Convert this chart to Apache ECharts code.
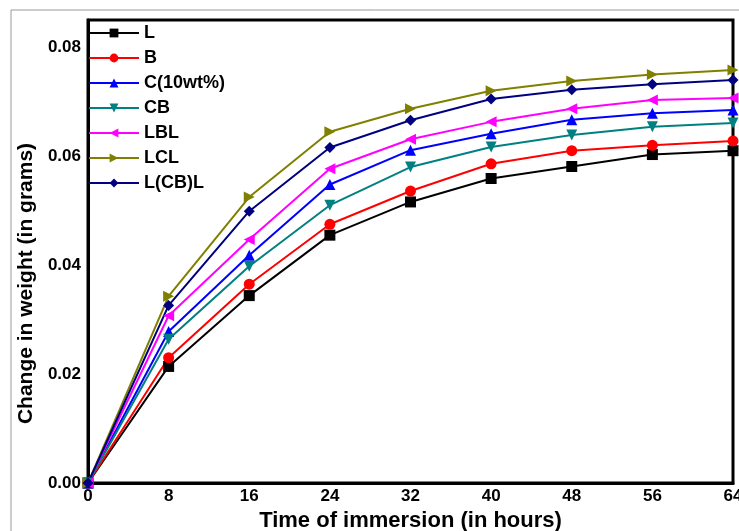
<!DOCTYPE html>
<html>
<head>
<meta charset="UTF-8" />
<title>Change in weight</title>
<script src="https://cdn.jsdelivr.net/npm/echarts@6/dist/echarts.min.js"></script>
<style>
  html, body { margin: 0; padding: 0; background: #fff; }
  #main { width: 739px; height: 531px; }
</style>
</head>
<body>
<div id="main"></div>
<script>
// time of immersion (hours)
var hours = [0, 8, 16, 24, 32, 40, 48, 56, 64]
// change in weight (grams)
var L     = [0, 0.0214, 0.0344, 0.0455, 0.0516, 0.0559, 0.0581, 0.0603, 0.0610]
var B     = [0, 0.0230, 0.0365, 0.0475, 0.0536, 0.0586, 0.0610, 0.0620, 0.0628]
var C     = [0, 0.0278, 0.0418, 0.0548, 0.0611, 0.0641, 0.0667, 0.0679, 0.0685]
var CB    = [0, 0.0264, 0.0398, 0.0510, 0.0580, 0.0617, 0.0639, 0.0654, 0.0661]
var LBL   = [0, 0.0307, 0.0447, 0.0577, 0.0631, 0.0663, 0.0687, 0.0703, 0.0707]
var LCL   = [0, 0.0343, 0.0525, 0.0645, 0.0687, 0.0720, 0.0738, 0.0750, 0.0758]
var LCBL  = [0, 0.0326, 0.0499, 0.0616, 0.0666, 0.0705, 0.0722, 0.0732, 0.0740]

var font = 'Liberation Sans'

function mk(name, data, color, symbol, rot) {
  return {
    name: name,
    type: 'line',
    data: hours.map(function (h, i) { return [h, data[i]] }),
    symbol: symbol,
    symbolSize: 11,
    symbolRotate: rot || 0,
    lineStyle: { color: color, width: 2 },
    itemStyle: { color: color },
    z: 3
  }
}

var chart = echarts.init(document.getElementById('main'))
chart.setOption({
  backgroundColor: '#fff',
  animation: false,
  graphic: [{
    type: 'rect',
    shape: { x: 11, y: 10, width: 800, height: 600 },
    style: { fill: 'none', stroke: '#999', lineWidth: 1 },
    silent: true
  }],
  grid: {
    left: 88, right: 6, top: 20, bottom: 48,
    outerBoundsMode: 'none',
    containLabel: false,
    show: true, borderColor: '#000', borderWidth: 3
  },
  legend: {
    orient: 'vertical',
    left: 88, top: 24,
    padding: 0,
    itemWidth: 50, itemHeight: 11,
    itemGap: 7,
    textStyle: { fontFamily: font, fontWeight: 'bold', fontSize: 18, color: '#000', lineHeight: 18 },
    data: ['L', 'B', 'C(10wt%)', 'CB', 'LBL', 'LCL', 'L(CB)L']
  },
  xAxis: {
    type: 'value',
    min: 0, max: 64, interval: 8,
    name: 'Time of immersion (in hours)',
    nameLocation: 'middle',
    nameGap: 27,
    nameTextStyle: { fontFamily: font, fontWeight: 'bold', fontSize: 22, color: '#000' },
    axisLine: { lineStyle: { color: '#000', width: 3 } },
    axisTick: { show: false },
    splitLine: { show: false },
    axisLabel: { fontFamily: font, fontWeight: 'bold', fontSize: 17, color: '#000', margin: 5 }
  },
  yAxis: {
    type: 'value',
    min: 0, max: 0.085, interval: 0.02,
    name: 'Change in weight (in grams)',
    nameLocation: 'middle',
    nameGap: 49,
    nameTextStyle: { fontFamily: font, fontWeight: 'bold', fontSize: 21, color: '#000', padding: [0, 64, 0, 0] },
    axisLine: { lineStyle: { color: '#000', width: 3 } },
    axisTick: { show: false },
    splitLine: { show: false },
    axisLabel: {
      fontFamily: font, fontWeight: 'bold', fontSize: 17, color: '#000', margin: 7,
      showMaxLabel: false,
      formatter: function (v) { return v.toFixed(2) }
    }
  },
  series: [
    mk('L', L, '#000000', 'rect'),
    mk('B', B, '#ff0000', 'circle'),
    mk('C(10wt%)', C, '#0000ff', 'triangle'),
    mk('CB', CB, '#008080', 'triangle', 180),
    mk('LBL', LBL, '#ff00ff', 'triangle', 90),
    mk('LCL', LCL, '#808000', 'triangle', -90),
    mk('L(CB)L', LCBL, '#000080', 'diamond')
  ]
})
</script>
</body>
</html>
